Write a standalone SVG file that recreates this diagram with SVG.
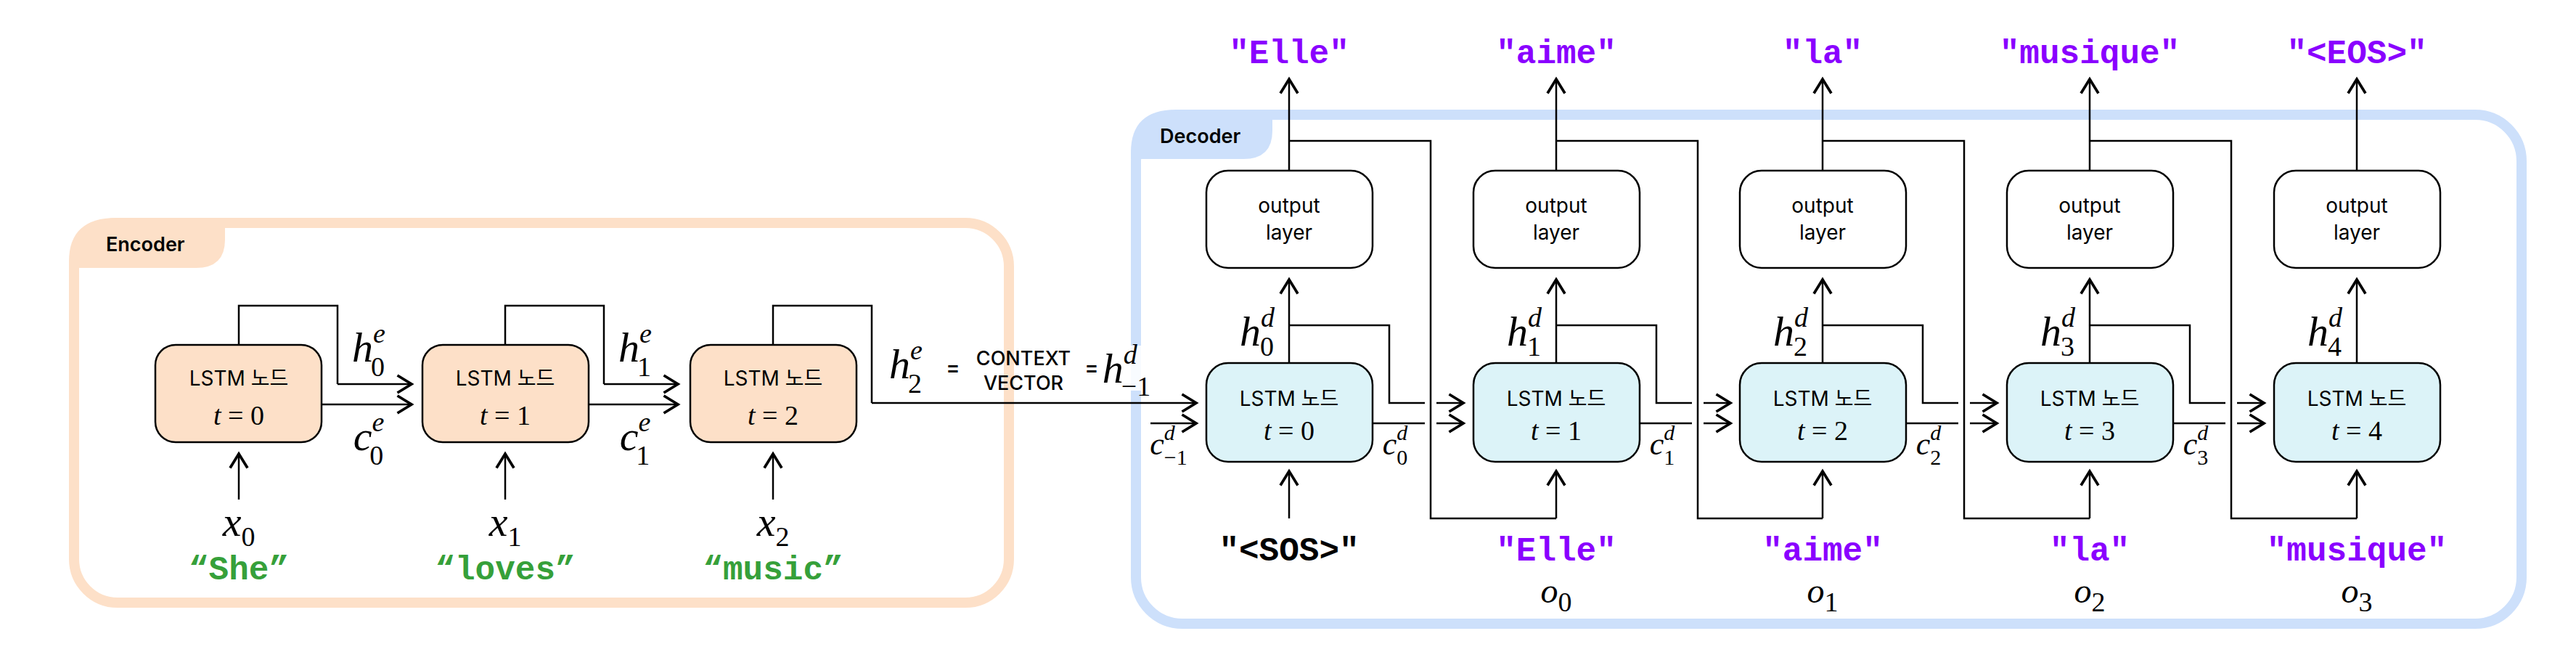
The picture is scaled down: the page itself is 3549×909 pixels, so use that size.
<svg xmlns="http://www.w3.org/2000/svg" width="3549" height="909" viewBox="0 0 3549 909">
<style>
.ln{fill:none;stroke:#000;stroke-width:2.5}
.ar{fill:none;stroke:#000;stroke-width:2.5;marker-end:url(#a)}
.enc{fill:#fde0c8;stroke:#000;stroke-width:2.5}
.dec{fill:#dcf3f8;stroke:#000;stroke-width:2.5}
.out{fill:#fff;stroke:#000;stroke-width:2.5}
.sans{font-family:Inter,"Liberation Sans","Noto Sans CJK KR",sans-serif;text-anchor:middle}
.lt{font-size:28px}
.m{font-family:"Liberation Serif",serif;font-style:italic;font-size:58px;text-anchor:middle}
.s{font-style:normal;font-size:38px}
.si{font-size:38px}
.tt{font-family:"Liberation Serif",serif;font-size:38px;text-anchor:middle}
.mono{font-family:"Liberation Mono","DejaVu Sans Mono",monospace;font-weight:bold;font-size:46px;text-anchor:middle}
.pu{fill:#8a00ff}
.gr{fill:#36a03a}
</style>
<defs>
<marker id="a" markerUnits="userSpaceOnUse" markerWidth="30" markerHeight="30" refX="0" refY="0" viewBox="-16 -10 20 20" orient="auto" overflow="visible">
<path d="M-13,-8 L0,0 L-13,8" fill="none" stroke="#000" stroke-width="2.5"/>
</marker>
</defs>
<g id="encoder-frame">
<rect x="102" y="307" width="1288" height="523" rx="60" fill="none" stroke="#fde0c8" stroke-width="14"/>
<path d="M95,369 L95,360 Q95,300 160,300 L310,300 L310,330 Q310,369 270,369 Z" fill="#fde0c8"/>
<text x="146" y="346" class="sans" style="text-anchor:start;font-size:27px;font-weight:600">Encoder</text>
</g>
<g id="decoder-frame">
<rect x="1565" y="158" width="1909" height="701" rx="64" fill="none" stroke="#cde0fb" stroke-width="14"/>
<path d="M1558,219 L1558,210 Q1558,151 1620,151 L1753,151 L1753,180 Q1753,219 1713,219 Z" fill="#cde0fb"/>
<text x="1598" y="197" class="sans" style="text-anchor:start;font-size:27px;font-weight:600">Decoder</text>
</g>
<g id="connectors">
<path class="ln" d="M329,475 V421 H465 V529"/><path class="ar" d="M465,529 H567"/><path class="ar" d="M443,557 H567"/>
<path class="ln" d="M696,475 V421 H832 V529"/><path class="ar" d="M832,529 H934"/><path class="ar" d="M810,557 H934"/>
<path class="ln" d="M1065,475 V421 H1201 V555"/><path class="ar" d="M1201,555 H1648"/>
<path class="ar" d="M1585,583 H1648"/>
<path class="ar" d="M329,688 V625"/><path class="ar" d="M696,688 V625"/><path class="ar" d="M1065,688 V625"/>
<path class="ar" d="M1776,500 V385"/><path class="ar" d="M1776,235 V109"/><path class="ar" d="M1776,714 V649"/>
<path class="ln" d="M1776,194 H1971 V714 H2144"/><path class="ar" d="M2144,714 V649"/>
<path class="ln" d="M1776,448 H1914 V555 H1963"/><path class="ln" d="M1891,583 H1963"/>
<path class="ar" d="M1979,555 H2016"/><path class="ar" d="M1979,583 H2016"/>
<path class="ar" d="M2144,500 V385"/><path class="ar" d="M2144,235 V109"/>
<path class="ln" d="M2144,194 H2339 V714 H2511"/><path class="ar" d="M2511,714 V649"/>
<path class="ln" d="M2144,448 H2282 V555 H2331"/><path class="ln" d="M2259,583 H2331"/>
<path class="ar" d="M2347,555 H2384"/><path class="ar" d="M2347,583 H2384"/>
<path class="ar" d="M2511,500 V385"/><path class="ar" d="M2511,235 V109"/>
<path class="ln" d="M2511,194 H2706 V714 H2879"/><path class="ar" d="M2879,714 V649"/>
<path class="ln" d="M2511,448 H2649 V555 H2698"/><path class="ln" d="M2626,583 H2698"/>
<path class="ar" d="M2714,555 H2751"/><path class="ar" d="M2714,583 H2751"/>
<path class="ar" d="M2879,500 V385"/><path class="ar" d="M2879,235 V109"/>
<path class="ln" d="M2879,194 H3074 V714 H3247"/><path class="ar" d="M3247,714 V649"/>
<path class="ln" d="M2879,448 H3017 V555 H3066"/><path class="ln" d="M2994,583 H3066"/>
<path class="ar" d="M3082,555 H3119"/><path class="ar" d="M3082,583 H3119"/>
<path class="ar" d="M3247,500 V385"/><path class="ar" d="M3247,235 V109"/>
</g>
<g id="enc0"><rect class="enc" x="214" y="475" width="229" height="134" rx="28"/><text x="329" y="531" class="sans lt">LSTM 노드</text><text x="329" y="585" class="tt"><tspan font-style="italic">t</tspan> = 0</text></g>
<g id="enc1"><rect class="enc" x="582" y="475" width="229" height="134" rx="28"/><text x="696" y="531" class="sans lt">LSTM 노드</text><text x="696" y="585" class="tt"><tspan font-style="italic">t</tspan> = 1</text></g>
<g id="enc2"><rect class="enc" x="951" y="475" width="229" height="134" rx="28"/><text x="1065" y="531" class="sans lt">LSTM 노드</text><text x="1065" y="585" class="tt"><tspan font-style="italic">t</tspan> = 2</text></g>
<g id="enc-labels">
<text x="508" y="498" class="m">h<tspan class="si" dy="-26">e</tspan><tspan class="s" dx="-20" dy="46">0</tspan></text>
<text x="875" y="498" class="m">h<tspan class="si" dy="-26">e</tspan><tspan class="s" dx="-20" dy="46">1</tspan></text>
<text x="508" y="620" class="m">c<tspan class="si" dy="-26">e</tspan><tspan class="s" dx="-20" dy="46">0</tspan></text>
<text x="875" y="620" class="m">c<tspan class="si" dy="-26">e</tspan><tspan class="s" dx="-20" dy="46">1</tspan></text>
<text x="1248" y="521" class="m">h<tspan class="si" dy="-26">e</tspan><tspan class="s" dx="-20" dy="46">2</tspan></text>
<text x="1313" y="516" class="sans" style="font-size:28px;font-weight:600">=</text>
<text x="1410" y="503" class="sans" style="font-size:27px;font-weight:500">CONTEXT</text>
<text x="1410" y="537" class="sans" style="font-size:27px;font-weight:500">VECTOR</text>
<text x="1504" y="516" class="sans" style="font-size:28px;font-weight:600">=</text>
<rect x="1520" y="476" width="60" height="62" fill="#fff" fill-opacity="0.85"/>
<text x="1552" y="527" class="m">h<tspan class="si" dy="-26">d</tspan><tspan class="s" dx="-22" dy="44">−1</tspan></text>
<text x="329" y="738" class="m">x<tspan class="s" dy="14">0</tspan></text>
<text x="696" y="738" class="m">x<tspan class="s" dy="14">1</tspan></text>
<text x="1065" y="738" class="m">x<tspan class="s" dy="14">2</tspan></text>
<text x="329" y="798" class="mono gr">“She”</text>
<text x="696" y="798" class="mono gr">“loves”</text>
<text x="1065" y="798" class="mono gr">“music”</text>
</g>
<g id="dec0"><rect class="dec" x="1662" y="500" width="229" height="136" rx="30"/><text x="1776" y="559" class="sans lt">LSTM 노드</text><text x="1776" y="606" class="tt"><tspan font-style="italic">t</tspan> = 0</text></g>
<g id="dec1"><rect class="dec" x="2030" y="500" width="229" height="136" rx="30"/><text x="2144" y="559" class="sans lt">LSTM 노드</text><text x="2144" y="606" class="tt"><tspan font-style="italic">t</tspan> = 1</text></g>
<g id="dec2"><rect class="dec" x="2397" y="500" width="229" height="136" rx="30"/><text x="2511" y="559" class="sans lt">LSTM 노드</text><text x="2511" y="606" class="tt"><tspan font-style="italic">t</tspan> = 2</text></g>
<g id="dec3"><rect class="dec" x="2765" y="500" width="229" height="136" rx="30"/><text x="2879" y="559" class="sans lt">LSTM 노드</text><text x="2879" y="606" class="tt"><tspan font-style="italic">t</tspan> = 3</text></g>
<g id="dec4"><rect class="dec" x="3133" y="500" width="229" height="136" rx="30"/><text x="3247" y="559" class="sans lt">LSTM 노드</text><text x="3247" y="606" class="tt"><tspan font-style="italic">t</tspan> = 4</text></g>
<g id="out0"><rect class="out" x="1662" y="235" width="229" height="134" rx="30"/><text x="1776" y="293" class="sans lt">output</text><text x="1776" y="330" class="sans lt">layer</text></g>
<g id="out1"><rect class="out" x="2030" y="235" width="229" height="134" rx="30"/><text x="2144" y="293" class="sans lt">output</text><text x="2144" y="330" class="sans lt">layer</text></g>
<g id="out2"><rect class="out" x="2397" y="235" width="229" height="134" rx="30"/><text x="2511" y="293" class="sans lt">output</text><text x="2511" y="330" class="sans lt">layer</text></g>
<g id="out3"><rect class="out" x="2765" y="235" width="229" height="134" rx="30"/><text x="2879" y="293" class="sans lt">output</text><text x="2879" y="330" class="sans lt">layer</text></g>
<g id="out4"><rect class="out" x="3133" y="235" width="229" height="134" rx="30"/><text x="3247" y="293" class="sans lt">output</text><text x="3247" y="330" class="sans lt">layer</text></g>
<g id="dec-labels">
<text x="1732" y="476" class="m">h<tspan class="si" dy="-26">d</tspan><tspan class="s" dx="-20" dy="40">0</tspan></text>
<text x="2100" y="476" class="m">h<tspan class="si" dy="-26">d</tspan><tspan class="s" dx="-20" dy="40">1</tspan></text>
<text x="2467" y="476" class="m">h<tspan class="si" dy="-26">d</tspan><tspan class="s" dx="-20" dy="40">2</tspan></text>
<text x="2835" y="476" class="m">h<tspan class="si" dy="-26">d</tspan><tspan class="s" dx="-20" dy="40">3</tspan></text>
<text x="3203" y="476" class="m">h<tspan class="si" dy="-26">d</tspan><tspan class="s" dx="-20" dy="40">4</tspan></text>
<text x="1610" y="626" class="m" style="font-size:44px">c<tspan class="si" style="font-size:30px" dy="-20">d</tspan><tspan class="s" style="font-size:30px" dx="-15" dy="34">−1</tspan></text>
<text x="1922" y="626" class="m" style="font-size:44px">c<tspan class="si" style="font-size:30px" dy="-20">d</tspan><tspan class="s" style="font-size:30px" dx="-15" dy="34">0</tspan></text>
<text x="2290" y="626" class="m" style="font-size:44px">c<tspan class="si" style="font-size:30px" dy="-20">d</tspan><tspan class="s" style="font-size:30px" dx="-15" dy="34">1</tspan></text>
<text x="2657" y="626" class="m" style="font-size:44px">c<tspan class="si" style="font-size:30px" dy="-20">d</tspan><tspan class="s" style="font-size:30px" dx="-15" dy="34">2</tspan></text>
<text x="3025" y="626" class="m" style="font-size:44px">c<tspan class="si" style="font-size:30px" dy="-20">d</tspan><tspan class="s" style="font-size:30px" dx="-15" dy="34">3</tspan></text>
<text x="1776" y="87" class="mono pu">"Elle"</text>
<text x="2144" y="87" class="mono pu">"aime"</text>
<text x="2511" y="87" class="mono pu">"la"</text>
<text x="2879" y="87" class="mono pu">"musique"</text>
<text x="3247" y="87" class="mono pu">"&lt;EOS&gt;"</text>
<text x="1776" y="772" class="mono">"&lt;SOS&gt;"</text>
<text x="2144" y="772" class="mono pu">"Elle"</text>
<text x="2511" y="772" class="mono pu">"aime"</text>
<text x="2879" y="772" class="mono pu">"la"</text>
<text x="3247" y="772" class="mono pu">"musique"</text>
<text x="2144" y="830" class="m" style="font-size:48px">o<tspan class="s" dy="12">0</tspan></text>
<text x="2511" y="830" class="m" style="font-size:48px">o<tspan class="s" dy="12">1</tspan></text>
<text x="2879" y="830" class="m" style="font-size:48px">o<tspan class="s" dy="12">2</tspan></text>
<text x="3247" y="830" class="m" style="font-size:48px">o<tspan class="s" dy="12">3</tspan></text>
</g>
</svg>
